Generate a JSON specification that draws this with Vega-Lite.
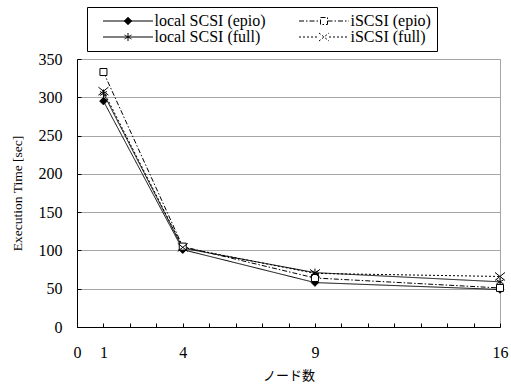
{
  "$schema": "https://vega.github.io/schema/vega-lite/v6.json",
  "width": 423,
  "height": 268,
  "autosize": {"type": "none"},
  "padding": {"left": 77, "top": 59, "right": 11, "bottom": 62},
  "background": "white",
  "data": {
    "values": [
      {"series": "local SCSI (epio)", "nodes": 1, "time": 295},
      {"series": "local SCSI (epio)", "nodes": 4, "time": 101},
      {"series": "local SCSI (epio)", "nodes": 9, "time": 58},
      {"series": "local SCSI (epio)", "nodes": 16, "time": 49},
      {"series": "local SCSI (full)", "nodes": 1, "time": 305},
      {"series": "local SCSI (full)", "nodes": 4, "time": 103},
      {"series": "local SCSI (full)", "nodes": 9, "time": 71},
      {"series": "local SCSI (full)", "nodes": 16, "time": 59},
      {"series": "iSCSI (epio)", "nodes": 1, "time": 333},
      {"series": "iSCSI (epio)", "nodes": 4, "time": 105},
      {"series": "iSCSI (epio)", "nodes": 9, "time": 64},
      {"series": "iSCSI (epio)", "nodes": 16, "time": 51},
      {"series": "iSCSI (full)", "nodes": 1, "time": 308},
      {"series": "iSCSI (full)", "nodes": 4, "time": 104},
      {"series": "iSCSI (full)", "nodes": 9, "time": 70},
      {"series": "iSCSI (full)", "nodes": 16, "time": 66}
    ]
  },
  "encoding": {
    "x": {
      "field": "nodes", "type": "quantitative",
      "scale": {"domain": [0, 16], "nice": false, "zero": true},
      "axis": {
        "title": "ノード数",
        "values": [0,1,2,3,4,5,6,7,8,9,10,11,12,13,14,15,16],
        "labelExpr": "indexof([0,1,4,9,16], datum.value) >= 0 ? datum.label : ''",
        "grid": false,
        "tickSize": -4,
        "labelPadding": 21,
        "labelFont": "Liberation Serif",
        "labelFontSize": 16,
        "labelColor": "black",
        "titleFont": "Noto Sans CJK JP",
        "titleFontSize": 13,
        "titleFontWeight": "normal",
        "titleColor": "black",
        "titleY": 48,
        "titleBaseline": "middle",
        "domainColor": "black",
        "tickColor": "black",
        "labelFlush": false,
        "labelOverlap": false
      }
    },
    "y": {
      "field": "time", "type": "quantitative",
      "scale": {"domain": [0, 350], "nice": false},
      "axis": {
        "title": "Execution Time [sec]",
        "values": [0, 50, 100, 150, 200, 250, 300, 350],
        "grid": true,
        "gridColor": "#a6a6a6",
        "tickSize": -4,
        "labelPadding": 19,
        "labelFont": "Liberation Serif",
        "labelFontSize": 16,
        "labelColor": "black",
        "titleFont": "Liberation Serif",
        "titleFontSize": 13.5,
        "titleFontWeight": "normal",
        "titleColor": "black",
        "titleX": -60,
        "titleY": 134,
        "titleAngle": -90,
        "titleAlign": "center",
        "titleBaseline": "middle",
        "domainColor": "black",
        "tickColor": "black",
        "labelFlush": false,
        "labelOverlap": false
      }
    }
  },
  "layer": [
    {
      "mark": {"type": "line", "color": "black", "strokeWidth": 1},
      "encoding": {
        "detail": {"field": "series"},
        "strokeDash": {
          "field": "series", "type": "nominal",
          "scale": {
            "domain": ["local SCSI (epio)", "local SCSI (full)", "iSCSI (epio)", "iSCSI (full)"],
            "range": [[1, 0], [1, 0], [5, 2, 1.5, 2], [2, 2]]
          },
          "legend": {
            "title": null,
            "orient": "none",
            "legendX": 10,
            "legendY": -52,
            "columns": 2,
            "gridAlign": "all",
            "columnPadding": 23,
            "rowPadding": 0,
            "padding": 6,
            "strokeColor": "black",
            "fillColor": "white",
            "labelFont": "Liberation Serif",
            "labelFontSize": 16,
            "labelColor": "black",
            "labelOffset": 45.5,
            "labelLimit": 300,
            "symbolSize": 100,
            "symbolStrokeWidth": 1,
            "symbolStrokeColor": "black",
            "encoding": {
              "symbols": {
                "shape": {
                  "condition": [
                    {"test": "datum.value == 'local SCSI (epio)'", "value": "M0.4,0H10.4M5.4,-0.75L6.15,0L5.4,0.75L4.65,0Z"},
                    {"test": "datum.value == 'local SCSI (full)'", "value": "M0.4,0H10.4M5.4,-0.8V0.8M4.7,-0.4L6.1,0.4M4.7,0.4L6.1,-0.4"},
                    {"test": "datum.value == 'iSCSI (epio)'", "value": "M0.4,0H4.7M6.1,0H10.4M4.7,-0.7H6.1V0.7H4.7Z"}
                  ],
                  "value": "M0.4,0H4.4M6.4,0H10.4M4.4,-0.8L6.4,0.8M4.4,0.8L6.4,-0.8"
                },
                "fill": {
                  "condition": [
                    {"test": "datum.value == 'local SCSI (epio)'", "value": "black"},
                    {"test": "datum.value == 'iSCSI (epio)'", "value": "white"}
                  ],
                  "value": "transparent"
                },
                "stroke": {"value": "black"},
                "strokeWidth": {"value": 1},
                "opacity": {"value": 1}
              }
            }
          }
        }
      }
    },
    {
      "mark": {"type": "point", "filled": true, "stroke": "black", "strokeWidth": 1, "size": 100, "opacity": 1},
      "encoding": {
        "fill": {
          "condition": [
            {"test": "datum.series == 'local SCSI (epio)'", "value": "black"},
            {"test": "datum.series == 'iSCSI (epio)'", "value": "white"}
          ],
          "value": "transparent"
        },
        "shape": {
          "field": "series", "type": "nominal",
          "scale": {
            "range": [
              "M-0.7,-0.7H0.7V0.7H-0.7Z",
              "M-1,-0.8L1,0.8M-1,0.8L1,-0.8",
              "M0,-0.75L0.75,0L0,0.75L-0.75,0Z",
              "M0,-0.8V0.8M-0.7,-0.4L0.7,0.4M-0.7,0.4L0.7,-0.4"
            ]
          },
          "legend": null
        }
      }
    }
  ],
  "config": {
    "view": {"stroke": "#a6a6a6", "strokeWidth": 1},
    "font": "Liberation Serif"
  }
}
